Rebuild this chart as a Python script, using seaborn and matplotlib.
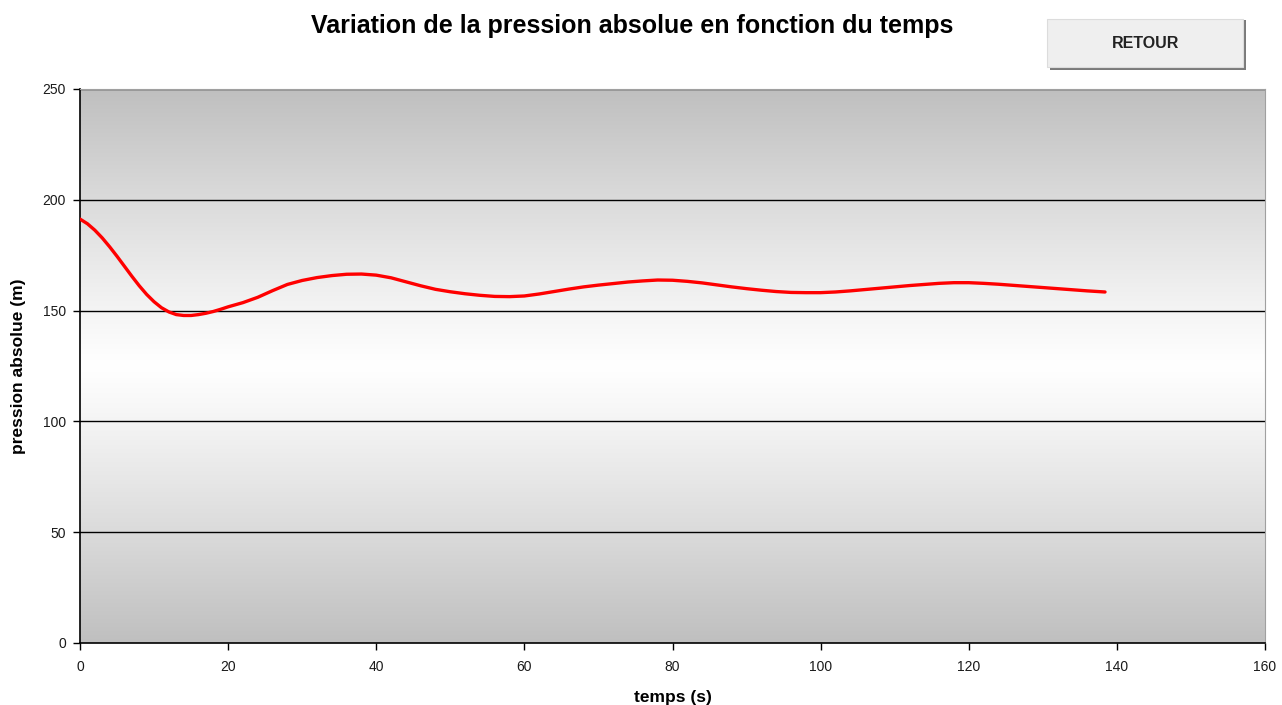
import numpy as np
import pandas as pd
import matplotlib
matplotlib.use("Agg")
import matplotlib.pyplot as plt
from matplotlib.patches import Rectangle
import seaborn as sns

# readings taken off the original chart
temps = [0, 1, 2, 3, 4, 5, 6, 7, 8, 9, 10, 11, 12, 13, 14, 15, 16, 17, 18, 19,
         20, 22, 24, 26, 28, 30, 32, 34, 36,
         38, 40, 42, 44, 46, 48, 50, 52, 54, 56, 58, 60, 62, 64, 66, 68, 70, 72,
         74, 76, 78, 80, 82, 84, 86, 88, 90, 92, 94, 96, 98, 100, 102, 104, 106,
         108, 110, 112, 114, 116, 118, 120, 122, 124, 126, 128, 130, 132, 134,
         136, 138.4]
pression = [191.3, 189.2, 186.3, 182.8, 178.8, 174.5, 170.0, 165.5, 161.2, 157.3,
            154.0, 151.3, 149.4, 148.2, 147.8, 147.8, 148.2, 148.8, 149.6, 150.6,
            151.7, 153.6, 156.0, 159.0, 161.8, 163.6, 164.9, 165.8, 166.4, 166.5,
            166.0, 164.8, 163.0, 161.2, 159.6, 158.5, 157.6, 156.9, 156.4, 156.3,
            156.6, 157.5, 158.6, 159.7, 160.7, 161.5, 162.2, 162.9, 163.4, 163.8,
            163.7, 163.2, 162.5, 161.6, 160.7, 159.9, 159.2, 158.6, 158.2, 158.1,
            158.1, 158.4, 158.9, 159.5, 160.1, 160.7, 161.3, 161.8, 162.3, 162.6,
            162.6, 162.3, 161.9, 161.4, 160.9, 160.4, 159.9, 159.4, 158.9, 158.4]

x_ticks = [0, 20, 40, 60, 80, 100, 120, 140, 160]
y_ticks = [0, 50, 100, 150, 200, 250]

sns.set_style("white")
plt.rcParams["font.family"] = ["Liberation Sans", "DejaVu Sans"]

df = pd.DataFrame({"temps": temps, "pression": pression})

fig = plt.figure(figsize=(12.82, 7.05), dpi=100)
ax = fig.add_axes([80 / 1282, 62 / 705, 1185 / 1282, 554 / 705])

# excel-like gradient: grey at the edges, white in the middle
g = np.abs(np.linspace(-1, 1, 256))
shade = 1.0 - 0.25 * g ** 1.1
grad = np.repeat(shade[:, None, None], 3, axis=2).repeat(2, axis=1)
ax.imshow(grad, extent=[0, 160, 0, 250], aspect="auto", origin="lower",
          zorder=0, interpolation="bilinear")

for yv in y_ticks[1:]:
    ax.axhline(yv, color="black", lw=1.0, zorder=1)

sns.lineplot(data=df, x="temps", y="pression", ax=ax, color="#ff0000",
             lw=2.4, zorder=3)

ax.set_xlim(0, 160)
ax.set_ylim(0, 250)
ax.set_xticks(x_ticks)
ax.set_yticks(y_ticks)
ax.tick_params(axis="both", direction="out", length=5, width=1, color="black",
               labelsize=10, labelcolor="#1a1a1a", bottom=True, left=True)
ax.tick_params(axis="x", pad=7)
ax.tick_params(axis="y", pad=5)
for s in ["left", "bottom"]:
    ax.spines[s].set_color("black")
    ax.spines[s].set_linewidth(1.2)
for s in ["top", "right"]:
    ax.spines[s].set_color("#a0a0a0")
    ax.spines[s].set_linewidth(0.8)

ax.set_xlabel("temps (s)", fontsize=12.5, fontweight="bold", color="black", labelpad=12)
ax.set_ylabel("pression absolue (m)", fontsize=12.5, fontweight="bold", color="black",
              labelpad=12)

fig.text(632 / 1282, 1 - 26 / 705, "Variation de la pression absolue en fonction du temps",
         ha="center", va="center", fontsize=18, fontweight="bold", color="black")

# RETOUR button
shadow = Rectangle((1050 / 1282, 1 - 70 / 705), 196 / 1282, 50 / 705,
                   transform=fig.transFigure, facecolor="#7a7a7a", edgecolor="none")
btn = Rectangle((1047 / 1282, 1 - 67 / 705), 196 / 1282, 48 / 705,
                transform=fig.transFigure, facecolor="#efefef", edgecolor="#dcdcdc",
                lw=0.8)
fig.patches.extend([shadow, btn])
fig.text(1146 / 1282, 1 - 44 / 705, "RETOUR", ha="center", va="center",
         fontsize=11.5, fontweight="bold", color="#222222")

fig.savefig("out.png", dpi=100, facecolor="white")
